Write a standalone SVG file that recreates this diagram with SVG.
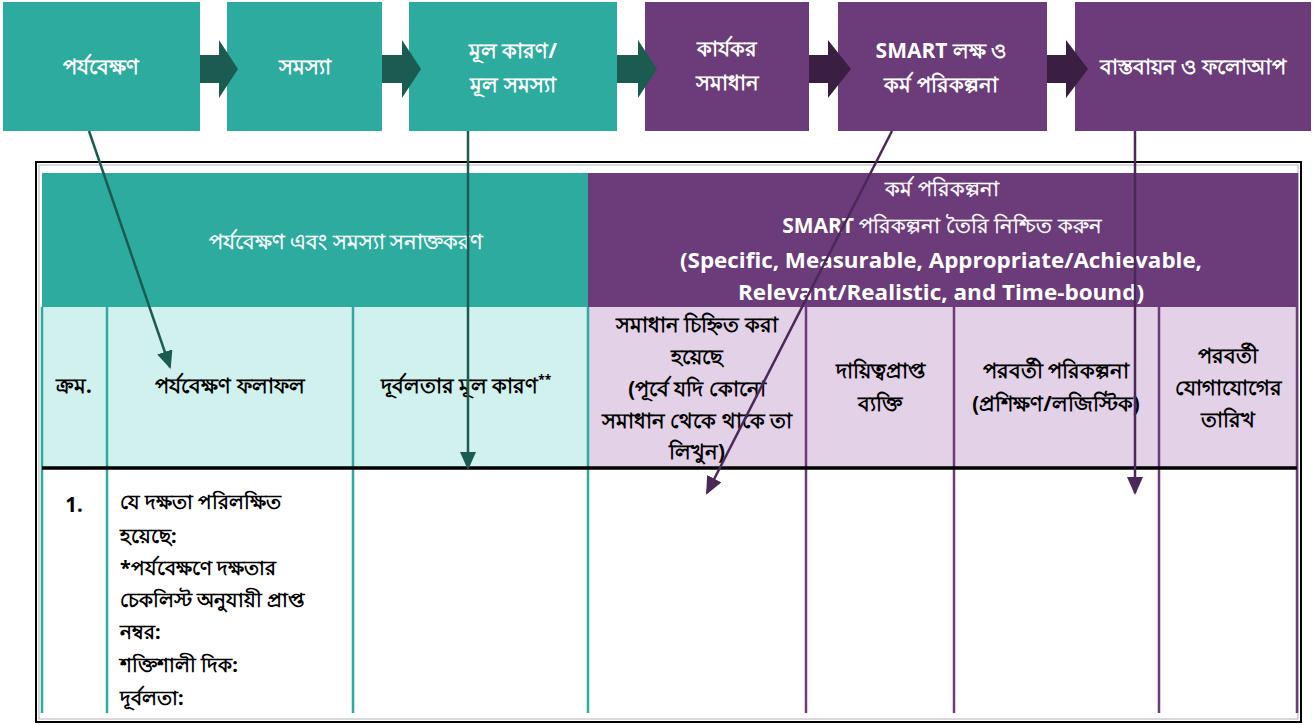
<svg xmlns="http://www.w3.org/2000/svg" width="1315" height="725" viewBox="0 0 1315 725">
  <defs>
    <style>
      .teal{fill:#2DAB9E}
      .purple{fill:#6B3C79}
      .lteal{fill:#D0F1EE}
      .lpurple{fill:#E3D1E8}
      .dteal{fill:#1B5B51}
      .dpurple{fill:#3B1F42}
      .bx{font-family:"Noto Sans",sans-serif;font-size:21px;font-weight:bold;fill:#ffffff;text-anchor:middle}
      .hw{font-family:"Noto Sans",sans-serif;font-size:21px;fill:#ffffff;stroke:#ffffff;stroke-width:0.45;text-anchor:middle}
      .en{font-family:"Open Sans",sans-serif;font-size:21px;font-weight:bold;fill:#ffffff;text-anchor:middle}
      .hd{font-family:"Noto Sans",sans-serif;font-size:20.5px;font-weight:bold;fill:#000000;text-anchor:middle}
      .bd{font-family:"Noto Sans",sans-serif;font-size:20px;font-weight:bold;fill:#000000}
      .tl{stroke:#2DAB9E;stroke-width:2.5;fill:none}
      .pl{stroke:#6B3C79;stroke-width:2.5;fill:none}
      .cT{stroke:#1B5B51;stroke-width:2.5;fill:none}
      .cP{stroke:#4B2857;stroke-width:2.5;fill:none}
    </style>
    <marker id="headT" viewBox="0 0 18 16" refX="16" refY="8" markerWidth="18" markerHeight="16" markerUnits="userSpaceOnUse" orient="auto">
      <path d="M0,0 L18,8 L0,16 z" fill="#1B5B51"/>
    </marker>
    <marker id="headP" viewBox="0 0 18 16" refX="16" refY="8" markerWidth="18" markerHeight="16" markerUnits="userSpaceOnUse" orient="auto">
      <path d="M0,0 L18,8 L0,16 z" fill="#4B2857"/>
    </marker>
  </defs>

  <!-- process steps -->
  <g id="step-observe">
    <rect class="teal" x="3" y="2" width="197" height="129"/>
    <text class="bx" x="101" y="74">পর্যবেক্ষণ</text>
  </g>
  <g id="step-problem">
    <rect class="teal" x="227" y="2" width="155" height="129"/>
    <text class="bx" x="305" y="74">সমস্যা</text>
  </g>
  <g id="step-rootcause">
    <rect class="teal" x="409" y="2" width="208" height="129"/>
    <text class="bx" x="513" y="58">মূল কারণ/</text>
    <text class="bx" x="513" y="92">মূল সমস্যা</text>
  </g>
  <g id="step-solution">
    <rect class="purple" x="645" y="2" width="164" height="129"/>
    <text class="bx" x="727" y="56">কার্যকর</text>
    <text class="bx" x="727" y="90">সমাধান</text>
  </g>
  <g id="step-smart">
    <rect class="purple" x="838" y="2" width="209" height="129"/>
    <text class="bx" x="941" y="58"><tspan font-family="'Open Sans',sans-serif" font-size="21px">SMART</tspan> লক্ষ ও</text>
    <text class="bx" x="941" y="92">কর্ম পরিকল্পনা</text>
  </g>
  <g id="step-followup">
    <rect class="purple" x="1075" y="2" width="236" height="129"/>
    <text class="bx" x="1193" y="74" font-size="20px">বাস্তবায়ন ও ফলোআপ</text>
  </g>

  <!-- worksheet table -->
  <g id="worksheet">
    <rect x="36" y="162" width="1265" height="560" fill="#ffffff" stroke="#000000" stroke-width="2"/>
    <rect x="39" y="165" width="1259" height="554" fill="none" stroke="#A0A0A0" stroke-width="0.8"/>

    <rect class="teal" x="42" y="173" width="546" height="134"/>
    <rect class="purple" x="588" y="173" width="709" height="134"/>
    <rect class="lteal" x="42" y="307" width="546" height="161"/>
    <rect class="lpurple" x="588" y="307" width="709" height="161"/>

    <!-- column rules -->
    <line class="tl" x1="42" y1="307" x2="42" y2="713"/>
    <line class="tl" x1="107" y1="307" x2="107" y2="713"/>
    <line class="tl" x1="353" y1="307" x2="353" y2="713"/>
    <line class="tl" x1="588" y1="307" x2="588" y2="713"/>
    <line class="pl" x1="806" y1="307" x2="806" y2="713"/>
    <line class="pl" x1="954" y1="307" x2="954" y2="713"/>
    <line class="pl" x1="1159" y1="307" x2="1159" y2="713"/>
    <line class="pl" x1="1297" y1="173" x2="1297" y2="713"/>
    <line x1="42" y1="468" x2="1297" y2="468" stroke="#000000" stroke-width="3.5"/>

    <!-- group headings -->
    <text class="hw" x="346" y="249">পর্যবেক্ষণ এবং সমস্যা সনাক্তকরণ</text>
    <text class="hw" x="942" y="196">কর্ম পরিকল্পনা</text>
    <text class="hw" x="942" y="233"><tspan font-family="'Open Sans',sans-serif" font-weight="bold" font-size="21px" stroke-width="0">SMART</tspan> পরিকল্পনা তৈরি নিশ্চিত করুন</text>
    <text class="en" x="941" y="268" textLength="522" lengthAdjust="spacingAndGlyphs">(Specific, Measurable, Appropriate/Achievable,</text>
    <text class="en" x="941" y="300" textLength="406" lengthAdjust="spacingAndGlyphs">Relevant/Realistic, and Time-bound)</text>

    <!-- column headings -->
    <text class="hd" x="74" y="393">ক্রম.</text>
    <text class="hd" x="230" y="393">পর্যবেক্ষণ ফলাফল</text>
    <text class="hd" x="466" y="393">দূর্বলতার মূল কারণ<tspan font-size="12px" dy="-9">**</tspan></text>
    <text class="hd" x="697" y="332">সমাধান চিহ্নিত করা</text>
    <text class="hd" x="697" y="364">হয়েছে</text>
    <text class="hd" x="697" y="396">(পূর্বে যদি কোনো</text>
    <text class="hd" x="697" y="428">সমাধান থেকে থাকে তা</text>
    <text class="hd" x="697" y="459">লিখুন)</text>
    <text class="hd" x="880" y="378">দায়িত্বপ্রাপ্ত</text>
    <text class="hd" x="880" y="411">ব্যক্তি</text>
    <text class="hd" x="1056" y="378">পরবর্তী পরিকল্পনা</text>
    <text class="hd" x="1056" y="411">(প্রশিক্ষণ/লজিস্টিক)</text>
    <text class="hd" x="1228" y="363">পরবর্তী</text>
    <text class="hd" x="1228" y="395">যোগাযোগের</text>
    <text class="hd" x="1228" y="427">তারিখ</text>

    <!-- first row -->
    <text class="hd" x="74" y="512" font-family="'Open Sans',sans-serif" font-size="19px">1.</text>
    <text class="bd" x="120" y="509">যে দক্ষতা পরিলক্ষিত</text>
    <text class="bd" x="120" y="543">হয়েছে:</text>
    <text class="bd" x="120" y="575">*পর্যবেক্ষণে দক্ষতার</text>
    <text class="bd" x="120" y="607">চেকলিস্ট অনুযায়ী প্রাপ্ত</text>
    <text class="bd" x="120" y="639">নম্বর:</text>
    <text class="bd" x="120" y="672">শক্তিশালী দিক:</text>
    <text class="bd" x="120" y="705">দূর্বলতা:</text>
  </g>

  <!-- connectors -->
  <g id="connectors">
    <polygon class="dteal" points="200,55 219,55 219,40 238,69 219,98 219,83 200,83"/>
    <polygon class="dteal" points="382,55 402,55 402,40 421,69 402,98 402,83 382,83"/>
    <polygon class="dteal" points="617,55 638,55 638,40 657,69 638,98 638,83 617,83"/>
    <polygon class="dpurple" points="809,55 828,55 828,40 851,69 828,98 828,83 809,83"/>
    <polygon class="dpurple" points="1047,55 1066,55 1066,40 1088,69 1066,98 1066,83 1047,83"/>

    <line class="cT" x1="89" y1="131" x2="170" y2="367" marker-end="url(#headT)"/>
    <line class="cT" x1="468" y1="131" x2="468" y2="468" marker-end="url(#headT)"/>
    <line class="cP" x1="892" y1="131" x2="707" y2="493" marker-end="url(#headP)"/>
    <line class="cP" x1="1135" y1="131" x2="1135" y2="493" marker-end="url(#headP)"/>
  </g>
</svg>
